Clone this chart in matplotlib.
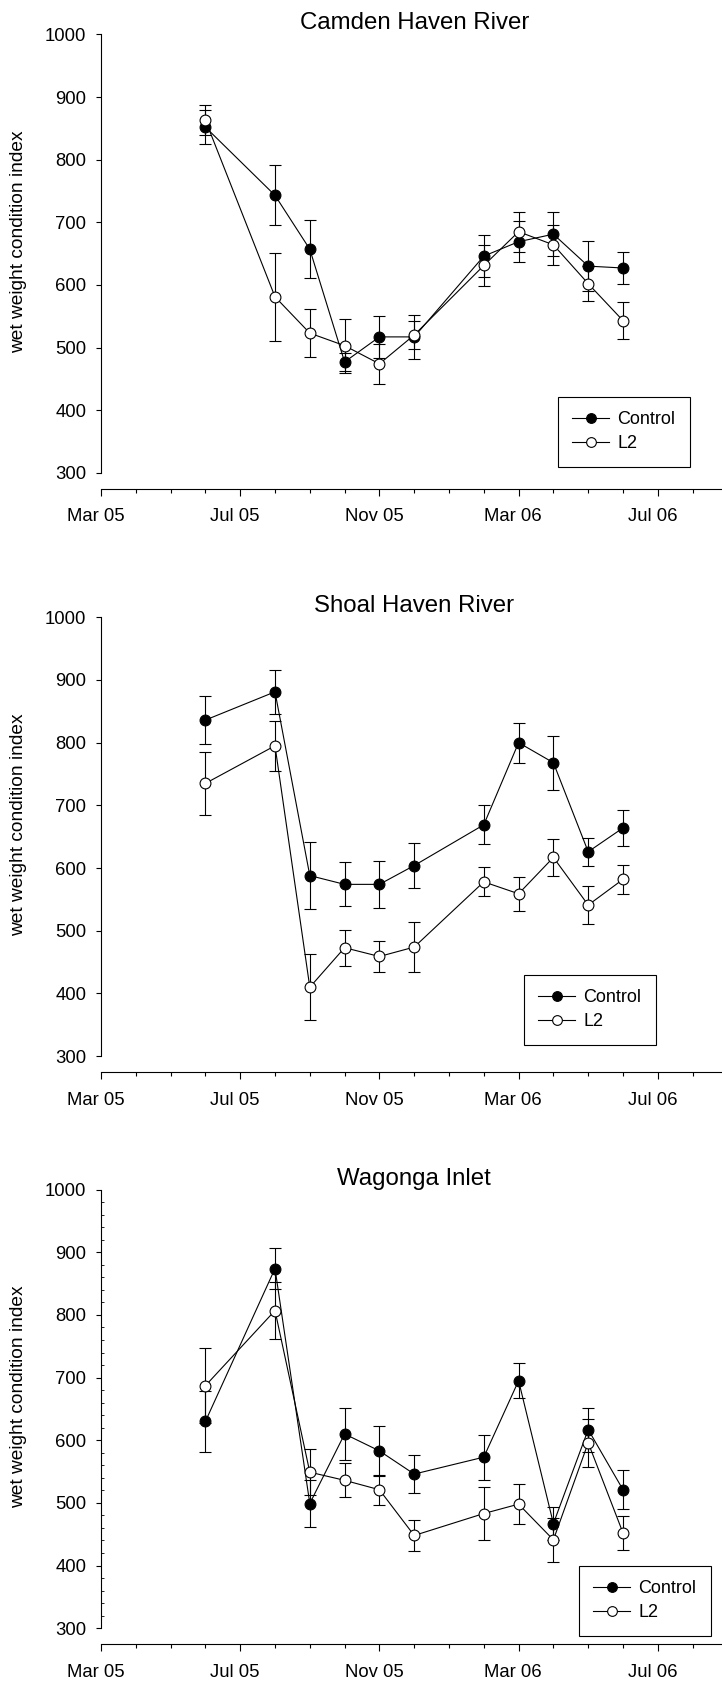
import matplotlib
matplotlib.use('Agg')
import matplotlib.pyplot as plt
from matplotlib.lines import Line2D
from matplotlib.ticker import MultipleLocator, FixedLocator
from matplotlib.transforms import ScaledTranslation
import pandas as pd

plt.rcParams['font.family'] = ['Liberation Sans', 'DejaVu Sans']

# ---------------- data ----------------
sample_dates = ['2005-06', '2005-08', '2005-09', '2005-10', '2005-11', '2005-12',
                '2006-02', '2006-03', '2006-04', '2006-05', '2006-06']
axis_start = '2005-03'
axis_end = '2006-09'
tick_labels = ['Mar 05', 'Jul 05', 'Nov 05', 'Mar 06', 'Jul 06']
series_names = ['Control', 'L2']
titles = ['Camden Haven River', 'Shoal Haven River', 'Wagonga Inlet']

camden_control = [852, 743, 657, 477, 517, 517, 646, 669, 681, 630, 627]
camden_control_se = [27, 48, 46, 14, 34, 35, 34, 33, 35, 40, 26]
camden_l2 = [863, 581, 523, 503, 474, 520, 631, 685, 664, 602, 543]
camden_l2_se = [24, 70, 38, 43, 32, 22, 33, 32, 32, 28, 29]

shoal_control = [836, 881, 588, 574, 574, 604, 669, 800, 768, 626, 664]
shoal_control_se = [38, 35, 53, 35, 37, 36, 31, 32, 43, 22, 29]
shoal_l2 = [735, 795, 410, 473, 459, 474, 578, 559, 617, 541, 582]
shoal_l2_se = [50, 40, 53, 29, 24, 40, 23, 27, 30, 30, 23]

wagonga_control = [630, 874, 499, 610, 583, 546, 573, 695, 467, 617, 521]
wagonga_control_se = [49, 32, 38, 41, 40, 30, 36, 28, 26, 35, 31]
wagonga_l2 = [687, 807, 549, 536, 521, 448, 483, 498, 441, 596, 452]
wagonga_l2_se = [60, 45, 37, 27, 24, 24, 43, 32, 35, 38, 27]

ylabel = 'wet weight condition index'
y_min, y_max, y_step = 300, 1000, 100

# ---------------- helpers ----------------
start = pd.Period(axis_start, 'M')
x_months = [(pd.Period(d, 'M') - start).n for d in sample_dates]
x_end = (pd.Period(axis_end, 'M') - start).n
major_ticks = list(range(0, x_end, 4))[:len(tick_labels)]

W, H = 722, 1684
fig = plt.figure(figsize=(W / 100, H / 100), dpi=100)

left_px = 101
month_px = 34.8
tops = [34.4, 617.2, 1189.6]
bottoms = [472.8, 1056.2, 1628.2]
legend_tl = [(558, 397), (524, 975), (579, 1566)]
ylabel_cy = [241.5, 824.5, 1397.0]

panels = [
    (camden_control, camden_control_se, camden_l2, camden_l2_se),
    (shoal_control, shoal_control_se, shoal_l2, shoal_l2_se),
    (wagonga_control, wagonga_control_se, wagonga_l2, wagonga_l2_se),
]

lw = 0.8
ms = 7.8

for i, (c, cse, l, lse) in enumerate(panels):
    width_px = month_px * x_end
    ax = fig.add_axes([left_px / W, 1 - bottoms[i] / H, width_px / W,
                       (bottoms[i] - tops[i]) / H])
    ax.set_xlim(0, x_end)
    ax.set_ylim(y_min, y_max)

    ax.errorbar(x_months, c, yerr=cse, fmt='-o', color='black', mfc='black',
                mec='black', ms=ms, mew=lw, lw=lw, elinewidth=lw, capsize=4.6,
                capthick=lw, zorder=3, clip_on=False)
    ax.errorbar(x_months, l, yerr=lse, fmt='-o', color='black', mfc='white',
                mec='black', ms=ms, mew=lw, lw=lw, elinewidth=lw, capsize=4.6,
                capthick=lw, zorder=4, clip_on=False)

    for s in ['top', 'right']:
        ax.spines[s].set_visible(False)
    ax.spines['left'].set_linewidth(lw)
    ax.spines['bottom'].set_linewidth(lw)
    ax.spines['bottom'].set_position(('outward', 11.5))

    ax.yaxis.set_major_locator(MultipleLocator(y_step))
    ax.tick_params(axis='y', which='major', direction='out', length=3.6,
                   width=lw, pad=7.0, labelsize=13.3)
    if i == 2:
        ax.yaxis.set_minor_locator(MultipleLocator(20))
        ax.tick_params(axis='y', which='minor', direction='in', length=2.5,
                       width=0.6)

    ax.xaxis.set_major_locator(FixedLocator(major_ticks))
    ax.xaxis.set_minor_locator(MultipleLocator(1))
    ax.set_xticklabels(tick_labels)
    ax.tick_params(axis='x', which='major', direction='out', length=5,
                   width=lw, pad=9.0, labelsize=13.3)
    ax.tick_params(axis='x', which='minor', direction='out', length=3.2,
                   width=lw)
    off = ScaledTranslation(-5.5 / 100, 0, fig.dpi_scale_trans)
    for lab in ax.get_xticklabels():
        lab.set_transform(lab.get_transform() + off)

    ax.set_title(titles[i], fontsize=17.3, pad=3)

    fig.text(18.5 / W, 1 - ylabel_cy[i] / H, ylabel, rotation=90,
             ha='center', va='center', fontsize=13.8)

    handles = [
        Line2D([], [], color='black', marker='o', mfc='black', mec='black',
               ms=7, mew=lw, lw=lw),
        Line2D([], [], color='black', marker='o', mfc='white', mec='black',
               ms=7, mew=lw, lw=lw),
    ]
    lx, ly = legend_tl[i]
    leg = ax.legend(handles, series_names, loc='upper left',
                    bbox_to_anchor=(lx / W, 1 - ly / H),
                    bbox_transform=fig.transFigure, frameon=True,
                    fancybox=False, edgecolor='black', framealpha=1,
                    borderpad=0.8, borderaxespad=0, handlelength=2.0,
                    handletextpad=0.5, labelspacing=0.38, fontsize=13.0,
                    numpoints=1)
    leg.get_frame().set_linewidth(lw)

fig.savefig('out.png', dpi=100)
